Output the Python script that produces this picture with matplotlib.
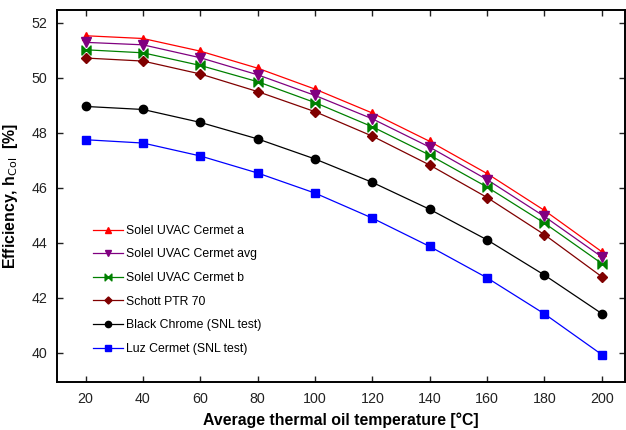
import numpy as np
import matplotlib
matplotlib.use("Agg")
import matplotlib.pyplot as plt
from matplotlib.path import Path

plt.rcParams['font.family'] = ['Liberation Sans', 'DejaVu Sans']

temps = [20, 40, 60, 80, 100, 120, 140, 160, 180, 200]

solel_a = [51.53, 51.43, 50.97, 50.35, 49.59, 48.72, 47.69, 46.52, 45.18, 43.68]
solel_avg = [51.29, 51.20, 50.73, 50.11, 49.36, 48.51, 47.48, 46.30, 44.96, 43.49]
solel_b = [51.02, 50.91, 50.45, 49.86, 49.10, 48.22, 47.19, 46.03, 44.72, 43.25]
schott = [50.72, 50.61, 50.14, 49.50, 48.77, 47.88, 46.83, 45.65, 44.30, 42.77]
black_chrome = [48.96, 48.85, 48.38, 47.78, 47.05, 46.20, 45.22, 44.11, 42.83, 41.43]
luz_cermet = [47.75, 47.63, 47.16, 46.54, 45.81, 44.90, 43.87, 42.73, 41.42, 39.94]

labels = ["Solel UVAC Cermet a", "Solel UVAC Cermet avg", "Solel UVAC Cermet b",
          "Schott PTR 70", "Black Chrome (SNL test)", "Luz Cermet (SNL test)"]

# bowtie marker: two triangles pointing at each other
bowtie = Path([(-1, -1), (-1, 1), (0, 0), (-1, -1),
               (1, -1), (1, 1), (0, 0), (1, -1)],
              [Path.MOVETO, Path.LINETO, Path.LINETO, Path.CLOSEPOLY,
               Path.MOVETO, Path.LINETO, Path.LINETO, Path.CLOSEPOLY])

series = [solel_a, solel_avg, solel_b, schott, black_chrome, luz_cermet]
colors = ['#ff0000', '#800080', '#008000', '#800000', '#000000', '#0000ff']
markers = ['^', 'v', bowtie, 'D', 'o', 's']
msizes = [6, 6.5, 6.5, 4.8, 6, 5.5]

fig = plt.figure(figsize=(6.26, 4.30), dpi=100)
ax = fig.add_axes([0.091, 0.112, 0.907, 0.865])

for ys, c, m, ms, lab in zip(series, colors, markers, msizes, labels):
    ax.plot(temps, ys, color=c, marker=m, markersize=ms, linewidth=0.9,
            markeredgecolor=c, markerfacecolor=c, label=lab)

ax.set_xlim(10, 208)
ax.set_ylim(38.95, 52.47)
ax.set_xticks(temps)
ax.set_yticks([40, 42, 44, 46, 48, 50, 52])
ax.tick_params(direction='in', top=True, right=True, labelsize=10.3,
               length=4, width=1, pad=7, colors='#222222', labelcolor='#222222')
for s in ax.spines.values():
    s.set_linewidth(1.4)

ax.set_xlabel("Average thermal oil temperature [°C]", fontsize=11.4,
              fontweight='bold', labelpad=5)
ax.set_ylabel("Efficiency, h$_{\\mathrm{Col}}$  [%]", fontsize=11.4,
              fontweight='bold', labelpad=8)

ax.legend(loc='upper left', bbox_to_anchor=(0.063, 0.422), frameon=False,
          fontsize=8.8, labelspacing=0.95, handlelength=2.5, handletextpad=0.2,
          borderpad=0, borderaxespad=0, markerscale=0.75)

fig.savefig("out.png", dpi=100)
